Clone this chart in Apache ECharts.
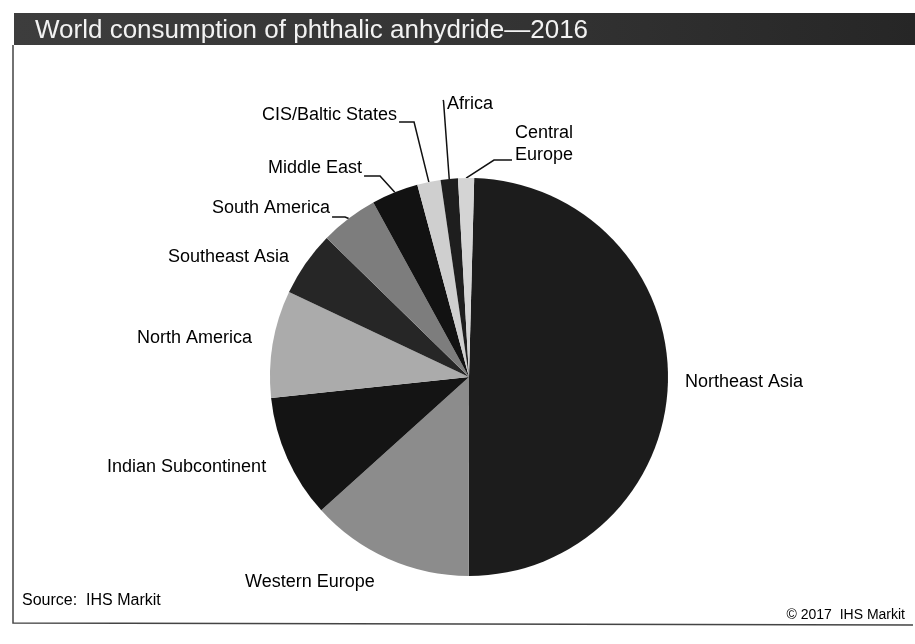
<!DOCTYPE html>
<html><head><meta charset="utf-8">
<script src="https://cdn.jsdelivr.net/npm/echarts@6/dist/echarts.min.js"></script>
<style>html,body{margin:0;padding:0;background:#fff}#c{width:915px;height:644px}</style>
</head><body><div id="c"></div>
<script>
// ---- data ----
const categories = ['Northeast Asia', 'Western Europe', 'Indian Subcontinent', 'North America', 'Southeast Asia',
  'South America', 'Middle East', 'CIS/Baltic States', 'Africa', 'Central\nEurope'];
const shares = [49.6, 13.3, 10.0, 8.7, 5.3, 4.7, 3.8, 1.9, 1.4, 1.3];
const sliceColors = ['#1c1c1c', '#8c8c8c', '#141414', '#ababab', '#262626', '#7d7d7d', '#121212', '#cfcfcf', '#1e1e1e', '#d4d4d4'];
const titleText = 'World consumption of phthalic anhydride\u20142016';
const sourceText = 'Source:  IHS Markit';
const copyrightText = '\u00a9 2017  IHS Markit';

// ---- label layout (left x, middle y) and leader-line style ----
const labelPos = [[685, 382], [245, 582], [107, 467], [137, 338], [168, 257], [212, 208], [268, 168], [262, 115], [447, 104], [515, 144]];
const lineMode = [null, null, null, null, null,
  {from: 'right', dy: 9, stub: 13}, {from: 'right', dy: 8, stub: 16}, {from: 'right', dy: 7, stub: 15},
  {from: 'topleft'}, {from: 'left', dy: 16, stub: 18}];

const chart = echarts.init(document.getElementById('c'), null, {renderer: 'canvas'});
const FONT = '"Liberation Sans", Arial, sans-serif';

const data = categories.map((n, i) => ({
  name: n, value: shares[i],
  itemStyle: {color: sliceColors[i]},
  labelLine: {show: !!lineMode[i]}
}));

chart.setOption({
  animation: false,
  backgroundColor: '#fff',
  graphic: [
    {type: 'rect', shape: {x: 14, y: 13, width: 901, height: 32}, z: 1,
      style: {fill: new echarts.graphic.LinearGradient(0, 0, 1, 0, [{offset: 0, color: '#3d3d3d'}, {offset: 0.5, color: '#353535'}, {offset: 1, color: '#262626'}])}},
    {type: 'text', x: 35, y: 31, z: 2,
      style: {text: titleText, fill: '#f2f2f2', font: '26px ' + FONT, verticalAlign: 'middle'}},
    {type: 'polyline', z: 1, shape: {points: [[13, 45], [13, 623], [913, 625]]}, style: {stroke: '#444', lineWidth: 1.5, fill: null}},
    {type: 'text', x: 22, y: 601, z: 2,
      style: {text: sourceText, fill: '#000', font: '16px ' + FONT, verticalAlign: 'middle'}},
    {type: 'text', x: 905, y: 615, z: 2,
      style: {text: copyrightText, fill: '#000', font: '14px ' + FONT, align: 'right', verticalAlign: 'middle'}}
  ],
  series: [{
    type: 'pie',
    center: [469, 377],
    radius: 199,
    startAngle: 88.5,
    clockwise: true,
    avoidLabelOverlap: false,
    emphasis: {disabled: true},
    label: {show: true, position: 'outside', formatter: '{b}', fontSize: 18, color: '#000', fontFamily: FONT, lineHeight: 22},
    labelLine: {show: true, length: 10, length2: 10, lineStyle: {color: '#111', width: 1.5}},
    labelLayout: function (p) {
      const i = p.dataIndex;
      const pos = labelPos[i];
      const out = {x: pos[0], y: pos[1], align: 'left', verticalAlign: 'middle'};
      const m = lineMode[i];
      if (m && p.labelLinePoints) {
        const edge = p.labelLinePoints[0];
        const w = p.labelRect.width;
        let start, elbow;
        if (m.from === 'right') {
          start = [pos[0] + w + 2, pos[1] + m.dy];
          elbow = [start[0] + m.stub, start[1]];
        } else if (m.from === 'left') {
          start = [pos[0] - 3, pos[1] + m.dy];
          elbow = [start[0] - m.stub, start[1]];
        } else {
          start = [pos[0] - 4, pos[1] - 4];
          elbow = [start[0] + 0.5, start[1] + 1];
        }
        out.labelLinePoints = [edge, elbow, start];
      }
      return out;
    },
    data: data
  }]
});
</script>
</body></html>
